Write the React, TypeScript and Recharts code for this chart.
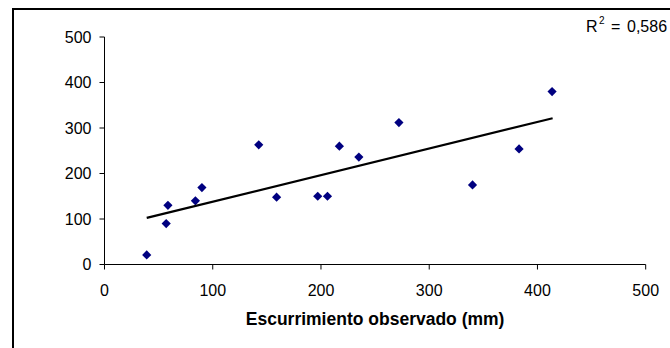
import React from 'react';
import { ScatterChart, Scatter, XAxis, YAxis, Label, Customized } from 'recharts';

const observed = [39, 57, 58.6, 84, 90, 142.5, 159, 197, 206, 217, 235, 272, 340, 383, 413.5];
const simulated = [21, 90, 130, 140, 169, 263, 148, 150, 150, 260, 236, 312, 175, 254, 380];
const trendX = [39, 414];
const trendY = [102.5, 321.5];
const axisTicks = [0, 100, 200, 300, 400, 500];
const xLabel = 'Escurrimiento observado (mm)';
const r2Label = '0,586';

const points = observed.map((x, i) => ({ x, y: simulated[i] }));
const trend = trendX.map((x, i) => ({ x, y: trendY[i] }));

const FONT = '"Liberation Sans", Arial, sans-serif';

const Diamond = (props: any) => {
  const { cx, cy } = props;
  if (cx == null || cy == null) return <g />;
  const r = 4.6;
  return (
    <path
      d={`M${cx},${cy - r}L${cx + r},${cy}L${cx},${cy + r}L${cx - r},${cy}Z`}
      fill="#000080"
      stroke="none"
    />
  );
};

const Empty = () => <g />;

const R2Text = () => (
  <text x={586} y={32} fontSize={16} fill="#000" fontFamily={FONT}>
    R
    <tspan x={599} dy={-8} fontSize={10}>2</tspan>
    <tspan x={611} dy={8} fontSize={16}>=</tspan>
    <tspan x={627} fontSize={16}>{r2Label}</tspan>
  </text>
);

export default function App() {
  return (
    <div style={{ position: 'absolute', left: 0, top: 0, width: 670, height: 348, overflow: 'hidden', background: '#fff' }}>
      <div
        style={{
          position: 'absolute',
          left: 12,
          top: 8,
          width: 800,
          height: 500,
          borderLeft: '2px solid #000',
          borderTop: '2px solid #000',
        }}
      />
      <div style={{ position: 'absolute', left: 0, top: 0 }}>
        <ScatterChart
          width={670}
          height={348}
          margin={{ top: 37, right: 24.3, bottom: 23.5, left: 44.5 }}
          style={{ fontFamily: FONT }}
        >
          <XAxis
            type="number"
            dataKey="x"
            domain={[0, 500]}
            ticks={axisTicks}
            interval={0}
            height={60}
            axisLine={{ stroke: '#000', strokeWidth: 1 }}
            tickLine={{ stroke: '#000', strokeWidth: 1 }}
            tickSize={5}
            tickMargin={15}
            tick={{ fill: '#000', fontSize: 16, fontFamily: FONT }}
            allowDataOverflow
          >
            <Label
              value={xLabel}
              position="insideBottom"
              offset={0}
              style={{ fill: '#000', fontSize: 17.5, fontWeight: 'bold', fontFamily: FONT }}
            />
          </XAxis>
          <YAxis
            type="number"
            dataKey="y"
            domain={[0, 500]}
            ticks={axisTicks}
            interval={0}
            width={60}
            axisLine={{ stroke: '#000', strokeWidth: 1 }}
            tickLine={{ stroke: '#000', strokeWidth: 1 }}
            tickSize={5}
            tickMargin={8}
            tick={{ fill: '#000', fontSize: 16, fontFamily: FONT }}
            allowDataOverflow
          />
          <Scatter data={points} shape={<Diamond />} isAnimationActive={false} />
          <Scatter
            data={trend}
            line={{ stroke: '#000', strokeWidth: 2.2 }}
            shape={<Empty />}
            isAnimationActive={false}
          />
          <Customized component={R2Text} />
        </ScatterChart>
      </div>
    </div>
  );
}
